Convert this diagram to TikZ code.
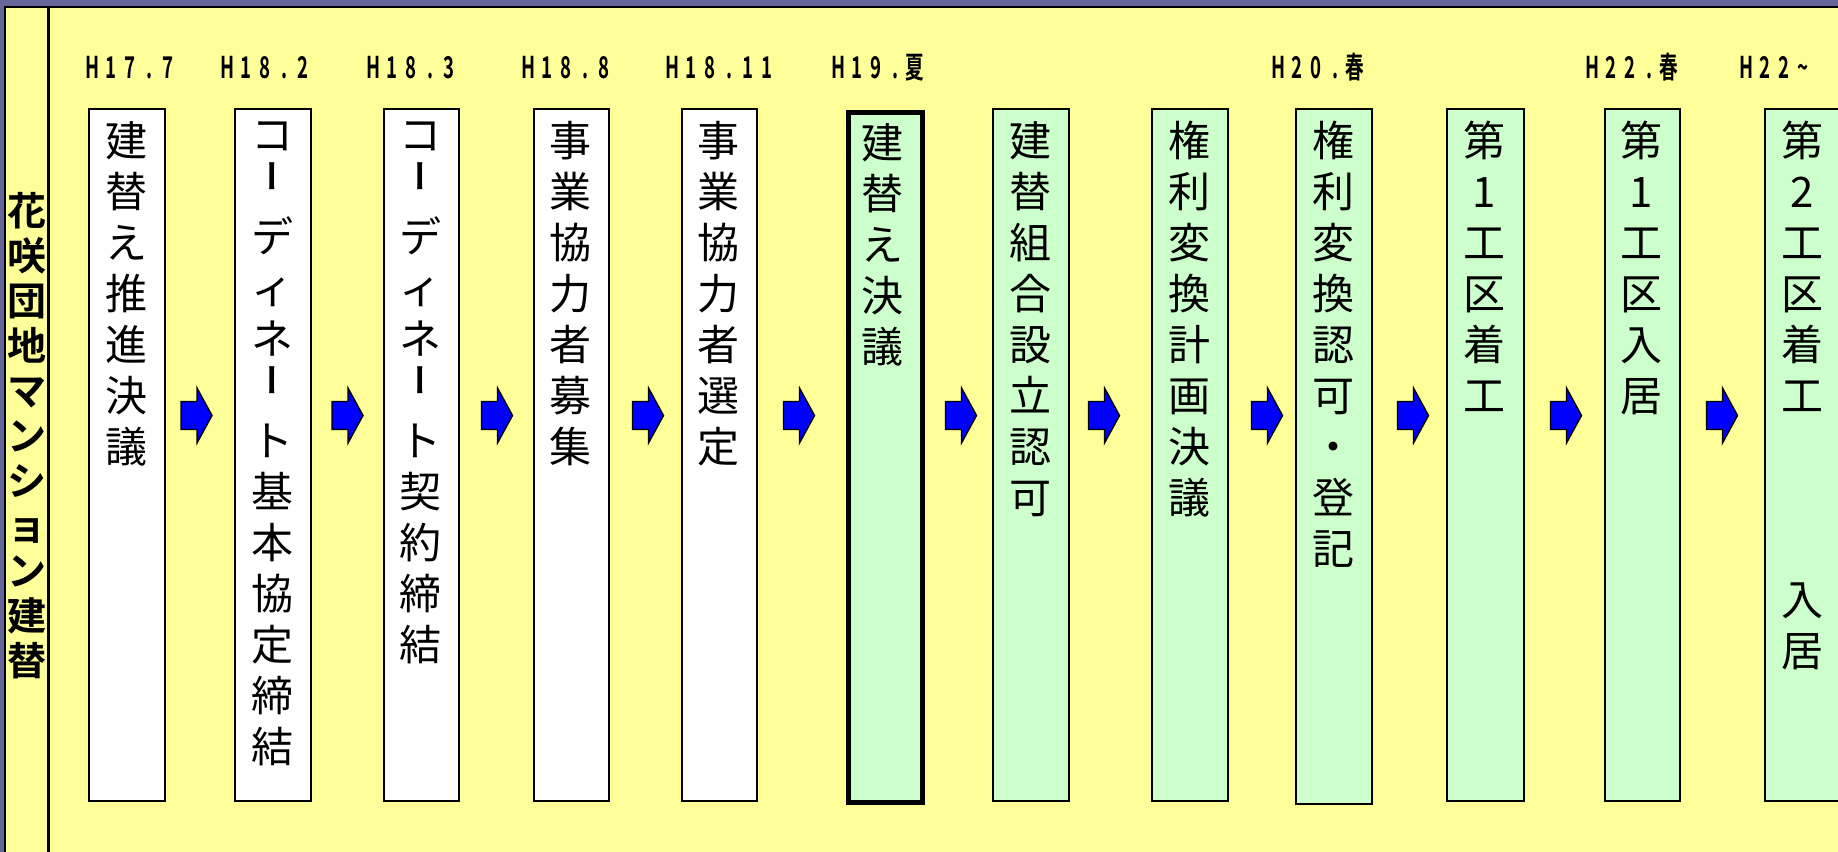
\documentclass[tikz,border=0pt]{standalone}
\usepackage{fontspec}
\usepackage{graphicx}
\newfontfamily\jp{Noto Sans CJK JP}
\newfontfamily\jpbold{Noto Sans CJK JP Bold}
\newfontfamily\jpvert{Noto Sans CJK JP Bold}[RawFeature=+vert]
\newfontfamily\datefont{Noto Sans CJK JP Bold}[FakeStretch=0.62]
\definecolor{frame}{HTML}{666699}
\definecolor{paper}{HTML}{FFFF99}
\definecolor{mint}{HTML}{CCFFCC}
\definecolor{arrowblue}{HTML}{0000FF}
\makeatletter
\def\spacedtxt#1{\spaced@i#1\relax}
\def\spaced@i#1{\ifx#1\relax\else\makebox[9.5pt][c]{#1}\expandafter\spaced@i\fi}
\makeatother
\newcommand\vchoon{\raisebox{6pt}{\jpvert\fontsize{17}{17}\selectfont ー}}
\tikzset{
  whitebox/.style={draw=black, line width=1pt, fill=white, minimum width=38pt, minimum height=346pt, inner sep=0pt, anchor=north west},
  greenbox/.style={whitebox, fill=mint},
  keybox/.style={draw=black, line width=2.5pt, fill=mint, minimum width=37pt, minimum height=345pt, inner sep=0pt, anchor=north west},
  boxtext/.style={anchor=north, align=center, inner sep=0pt, font=\jp\fontsize{21}{25.5}\selectfont},
  datelabel/.style={anchor=base west, inner sep=0pt, font=\datefont\fontsize{15}{15}\selectfont},
  barrow/.pic={\filldraw[fill=arrowblue, draw=black, line width=0.7pt]
     (-15.5,-14) -- (0.5,-14) -- (0.5,-27.5) -- (15.5,0) -- (0.5,27.5) -- (0.5,14) -- (-15.5,14) -- cycle;}
}
\begin{document}
\begin{tikzpicture}[x=0.5pt, y=-0.5pt]
\useasboundingbox (0,0) rectangle (1838,852);
\fill[frame] (0,0) rectangle (1838,852);
\fill[paper] (5,7) rectangle (1838,852);
\draw[line width=1pt] (5,852) -- (5,7) -- (1838,7);
\draw[line width=1.5pt] (48,7) -- (48,852);

\node[anchor=north, align=center, inner sep=0pt, font=\jpbold\fontsize{19.5}{22.5}\selectfont] (title) at (26.5,192)
  {花\\咲\\団\\地\\マ\\ン\\シ\\ョ\\ン\\建\\替};

% date labels
\node[datelabel] (d1) at (82.5,78) {\spacedtxt{H17.7}};
\node[datelabel] (d2) at (217.5,78) {\spacedtxt{H18.2}};
\node[datelabel] (d3) at (363.5,78) {\spacedtxt{H18.3}};
\node[datelabel] (d4) at (518.5,78) {\spacedtxt{H18.8}};
\node[datelabel] (d5) at (662.5,78) {\spacedtxt{H18.11}};
\node[datelabel] (d6) at (828.5,78) {\spacedtxt{H19.夏}};
\node[datelabel] (d7) at (1268.5,78) {\spacedtxt{H20.春}};
\node[datelabel] (d8) at (1582.5,78) {\spacedtxt{H22.春}};
\node[datelabel] (d9) at (1736.5,78) {\spacedtxt{H22{\textasciitilde}}};

% boxes
\node[whitebox] (b1) at (88,108) {};
\node[whitebox] (b2) at (234,108) {};
\node[whitebox, minimum width=37.5pt] (b3) at (383,108) {};
\node[whitebox, minimum width=37.5pt] (b4) at (533,108) {};
\node[whitebox, minimum width=37.5pt] (b5) at (681,108) {};
\node[keybox] (b6) at (845.5,109.5) {};
\node[greenbox] (b7) at (992,108) {};
\node[greenbox] (b8) at (1151,108) {};
\node[greenbox, minimum height=347.5pt] (b9) at (1295,108) {};
\node[greenbox, minimum width=38.5pt] (b10) at (1446,108) {};
\node[greenbox, minimum width=37.5pt] (b11) at (1604,108) {};
\node[greenbox] (b12) at (1764,108) {};

% box texts
\node[boxtext] (t1) at (126,121) {建\\替\\え\\推\\進\\決\\議};
\node[boxtext] (t2) at (272,121) {コ\\\vchoon\\デ\\ィ\\ネ\\\vchoon\\ト\\基\\本\\協\\定\\締\\結};
\node[boxtext] (t3) at (420.5,121) {コ\\\vchoon\\デ\\ィ\\ネ\\\vchoon\\ト\\契\\約\\締\\結};
\node[boxtext] (t4) at (570.5,121) {事\\業\\協\\力\\者\\募\\集};
\node[boxtext] (t5) at (718.5,121) {事\\業\\協\\力\\者\\選\\定};
\node[boxtext] (t6) at (882.5,123) {建\\替\\え\\決\\議};
\node[boxtext] (t7) at (1030,121) {建\\替\\組\\合\\設\\立\\認\\可};
\node[boxtext] (t8) at (1189,121) {権\\利\\変\\換\\計\\画\\決\\議};
\node[boxtext] (t9) at (1333,121) {権\\利\\変\\換\\認\\可\\・\\登\\記};
\node[boxtext] (t10) at (1484.5,121) {第\\1\\工\\区\\着\\工};
\node[boxtext] (t11) at (1641.5,121) {第\\1\\工\\区\\入\\居};
\node[boxtext] (t12) at (1802,121) {第\\2\\工\\区\\着\\工\\[76.5pt]入\\居};

% block arrows
\pic at (196.5,415.5) {barrow};
\pic at (347.5,415.5) {barrow};
\pic at (497,415.5) {barrow};
\pic at (648,415.5) {barrow};
\pic at (799,415.5) {barrow};
\pic at (961,415.5) {barrow};
\pic at (1104,415.5) {barrow};
\pic at (1267,415.5) {barrow};
\pic at (1413,415.5) {barrow};
\pic at (1566,415.5) {barrow};
\pic at (1722,415.5) {barrow};
\end{tikzpicture}
\end{document}
